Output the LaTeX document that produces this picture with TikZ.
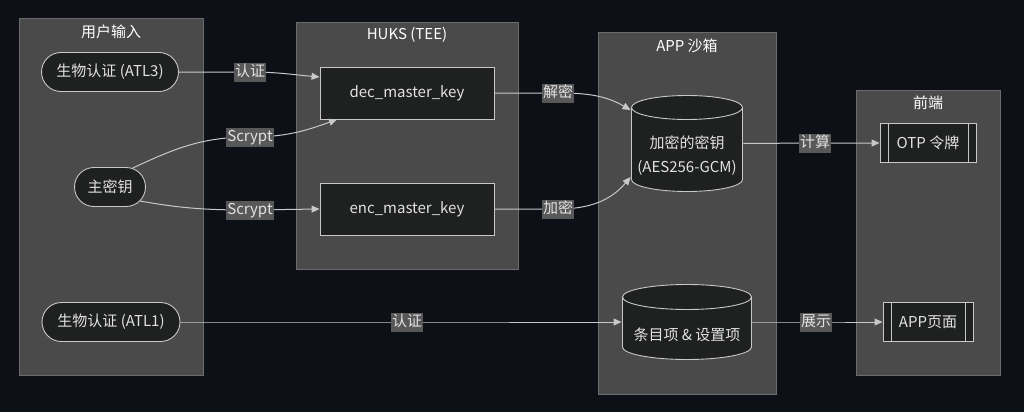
\documentclass[tikz,border=0pt]{standalone}
\usepackage{fontspec}
\setmainfont{Noto Sans CJK SC}
\usetikzlibrary{positioning,arrows.meta,shapes.misc,backgrounds}
\definecolor{bgdark}{RGB}{13,16,23}
\definecolor{cluster}{RGB}{74,74,74}
\definecolor{clusterline}{RGB}{108,108,108}
\definecolor{nodefill}{RGB}{31,32,32}
\definecolor{nodeline}{RGB}{200,200,200}
\definecolor{labelfill}{RGB}{88,88,88}
\definecolor{txt}{RGB}{226,226,226}
\tikzset{%
  group/.style={draw=clusterline, fill=cluster, line width=0.9pt},% subgraph frame
  grouptitle/.style={text=white, font=\fontsize{15}{17}\selectfont},
  box/.style={draw=nodeline, fill=nodefill, text=txt, line width=0.9pt,
    inner sep=0pt, align=center, font=\fontsize{15}{24}\selectfont},
  pill/.style={box, rounded rectangle, minimum height=39pt},% stadium nodes
  % database nodes: #1 = x radius, #2 = y radius, #3 = drawn height
  store/.style n args={3}{box, draw=none, fill=cluster,
    minimum width={2*#1 pt}, minimum height={#3 pt + 2*#2 pt}, path picture={
      \draw[nodeline, fill=nodefill, line width=0.9pt]
        ([xshift=0.5pt, yshift=-#2 pt]path picture bounding box.north west)
        arc[start angle=180, end angle=0, x radius={#1 pt - 0.5pt}, y radius={#2 pt - 0.5pt}]
        -- ([xshift=-0.5pt, yshift={3*#2 pt}]path picture bounding box.south east)
        arc[start angle=0, end angle=-180, x radius={#1 pt - 0.5pt}, y radius={#2 pt - 0.5pt}]
        -- cycle;
      \draw[nodeline, line width=0.9pt]
        ([xshift=0.5pt, yshift=-#2 pt]path picture bounding box.north west)
        arc[start angle=180, end angle=360, x radius={#1 pt - 0.5pt}, y radius={#2 pt - 0.5pt}];}},
  subr/.style={box, minimum height=39pt, path picture={
      \draw[nodeline, line width=0.9pt]
        ([xshift=8pt]path picture bounding box.north west) -- ([xshift=8pt]path picture bounding box.south west)
        ([xshift=-8pt]path picture bounding box.north east) -- ([xshift=-8pt]path picture bounding box.south east);}},
  flow/.style={draw=nodeline, line width=1pt, -{Triangle[width=7pt,length=8pt]}},
  tag/.style={fill=labelfill, text=txt, inner xsep=1pt, inner ysep=0pt,
    text height=14pt, text depth=5pt, font=\fontsize{15}{17}\selectfont}% edge labels
}

\begin{document}
\begin{tikzpicture}[x=1pt, y=-1pt]
\fill[bgdark] (0,0) rectangle (1024,412);
\useasboundingbox (0,0) rectangle (1024,412);

% subgraphs
\draw[group] (19,18) rectangle (203,375);
\draw[group] (296,22) rectangle (518,269);
\draw[group] (598,32) rectangle (776,394);
\draw[group] (856,90) rectangle (1000,375);
\node[grouptitle] (tuser) at (111,32) {用户输入};
\node[grouptitle] (thuks) at (407,35) {HUKS (TEE)};
\node[grouptitle] (tapp) at (687,46) {APP 沙箱};
\node[grouptitle] (tfront) at (928,103) {前端};

% nodes
\node[pill, minimum width=137pt] (atl3) at (110,72) {生物认证 (ATL3)};
\node[pill, minimum width=71pt] (mk) at (110,187) {主密钥};
\node[pill, minimum width=138pt] (atl1) at (111,322) {生物认证 (ATL1)};
\node[box, minimum width=174pt, minimum height=52pt] (dec) at (407,93) {dec\_master\_key};
\node[box, minimum width=174pt, minimum height=52pt] (enc) at (407,209) {enc\_master\_key};
\node[store={56}{12.5}{97}] (ek) at (687,156) {加密的密钥\\(AES256-GCM)};
\node[store={65}{13}{76}] (items) at (687,335) {条目项 \& 设置项};
\node[subr, minimum width=96pt] (otp) at (928,143) {OTP 令牌};
\node[subr, minimum width=90pt] (page) at (928,322) {APP页面};

% label points
\coordinate (l1) at (250,72);
\coordinate (l2) at (250,137);
\coordinate (l3) at (250,210);
\coordinate (l4) at (558,93);
\coordinate (l5) at (558,209);
\coordinate (l6) at (815,143);
\coordinate (l7) at (407,322);
\coordinate (l8) at (816,322);

% edges
\draw[flow] (atl3.east) -- (l1) to[out=0, in=175] ([yshift=16pt]dec.west);
\draw[flow] (mk.40) to[out=25, in=180] (l2) to[out=0, in=200] ([xshift=-70pt]dec.south);
\draw[flow] (mk.-25) to[out=-10, in=180] (l3) -- (enc.west);
\draw[flow] (dec.east) -- (l4) to[out=0, in=150] ([yshift=46pt]ek.west);
\draw[flow] (enc.east) -- (l5) to[out=0, in=230] ([yshift=-21pt]ek.west);
\draw[flow] ([yshift=12.5pt]ek.east) -- (l6) -- (otp.west);
\draw[flow] (atl1.east) -- (l7) -- ([yshift=13pt]items.west);
\draw[flow] ([yshift=13pt]items.east) -- (l8) -- (page.west);

% edge labels
\node[tag] (e1) at (l1) {认证};
\node[tag] (e2) at (l2) {Scrypt};
\node[tag] (e3) at (l3) {Scrypt};
\node[tag] (e4) at (l4) {解密};
\node[tag] (e5) at (l5) {加密};
\node[tag] (e6) at (l6) {计算};
\node[tag] (e7) at (l7) {认证};
\node[tag] (e8) at (l8) {展示};
\end{tikzpicture}
\end{document}
